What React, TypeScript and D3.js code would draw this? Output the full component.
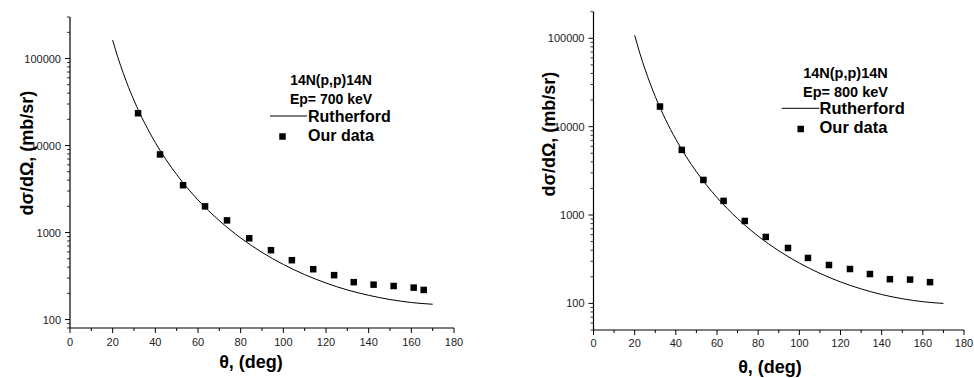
import React, { useEffect } from "react";
import * as d3 from "d3";

// Scattering angles (deg) at which the Rutherford curve is sampled
const rutherfordAngles = [20, 22.5, 25, 27.5, 30, 35, 40, 45, 50, 60, 70, 80, 90, 100, 110, 120, 130, 140, 150, 160, 170];
// Rutherford cross sections (mb/sr), Ep = 700 keV
const rutherford700 = [162800, 102100, 67500, 46400, 33000, 18100, 10800, 6900, 4640, 2370, 1370, 867, 592, 430, 329, 263, 219, 190, 170, 157, 150];
// Rutherford cross sections (mb/sr), Ep = 800 keV
const rutherford800 = [108300, 67900, 44900, 30900, 21950, 12050, 7200, 4590, 3090, 1577, 912, 577, 394, 286, 219, 175, 146, 126, 113, 104.5, 100];

// Measured 14N(p,p)14N cross sections, Ep = 700 keV
const angles700 = [31.9, 42.2, 53, 63.3, 73.6, 84, 94.2, 104, 114, 123.8, 133, 142.3, 151.7, 161.1, 165.8];
const data700 = [23500, 7900, 3500, 2000, 1380, 860, 627, 481, 379, 324, 269, 252, 243, 233, 219];

// Measured 14N(p,p)14N cross sections, Ep = 800 keV
const angles800 = [32.3, 42.9, 53.4, 63.2, 73.5, 83.7, 94.5, 104.2, 114.4, 124.6, 134.3, 144, 153.8, 163.5];
const data800 = [16900, 5460, 2495, 1445, 857, 565, 424, 327, 272, 245, 215, 188, 186, 174];

const xMajorTicks = [0, 20, 40, 60, 80, 100, 120, 140, 160, 180];
const xMinorTicks = [10, 30, 50, 70, 90, 110, 130, 150, 170];
const yMajorTicks = [100, 1000, 10000, 100000];

const FONT = "'Liberation Sans', Arial, Helvetica, sans-serif";

type PanelProps = {
  xRange: [number, number];
  yRange: [number, number];
  yDomain: [number, number];
  curveY: number[];
  pointX: number[];
  pointY: number[];
  energy: string;
  xTitle: [number, number];
  yTitle: [number, number];
  tickLabelDy: number;
  legend: {
    cx: number;
    line1: number;
    line2: number;
    titleSize: number;
    entrySize: number;
    lineX0: number;
    lineX1: number;
    lineY: number;
    rutherfordBase: number;
    textX: number;
    squareX: number;
    squareY: number;
    dataBase: number;
  };
};

function logMinorTicks(lo: number, hi: number): number[] {
  const out: number[] = [];
  for (let e = Math.floor(Math.log10(lo)); e <= Math.ceil(Math.log10(hi)); e++) {
    for (let m = 1; m <= 9; m++) {
      const v = m * Math.pow(10, e);
      if (v >= lo * 0.999 && v <= hi * 1.001 && m !== 1) out.push(v);
    }
  }
  return out;
}

function Panel(p: PanelProps) {
  const x = d3.scaleLinear().domain([0, 180]).range(p.xRange);
  const y = d3.scaleLog().domain(p.yDomain).range(p.yRange);
  const x0 = p.xRange[0];
  const yb = p.yRange[0];

  const line = d3
    .line<number>()
    .x((_, i) => x(rutherfordAngles[i]))
    .y((v) => y(v))
    .curve(d3.curveMonotoneX);

  const minors = logMinorTicks(p.yDomain[0], p.yDomain[1]);
  const L = p.legend;
  const sq = 6.5;

  return (
    <g>
      {/* Rutherford curve */}
      <path d={line(p.curveY) || ""} fill="none" stroke="#000" strokeWidth={1} />
      {/* measured points */}
      {p.pointY.map((v, i) => (
        <rect key={i} x={x(p.pointX[i]) - sq / 2} y={y(v) - sq / 2} width={sq} height={sq} fill="#000" />
      ))}

      {/* axes */}
      <line x1={x0} x2={x0} y1={p.yRange[1]} y2={yb} stroke="#000" strokeWidth={1.2} />
      <line x1={x0} x2={p.xRange[1]} y1={yb} y2={yb} stroke="#000" strokeWidth={1.2} />

      {xMajorTicks.map((t) => (
        <g key={"xm" + t}>
          <line x1={x(t)} x2={x(t)} y1={yb} y2={yb + 5} stroke="#000" />
          <text x={x(t)} y={yb + p.tickLabelDy} textAnchor="middle" fontSize={11} fontFamily={FONT} fill="#222">
            {t}
          </text>
        </g>
      ))}
      {xMinorTicks.map((t) => (
        <line key={"xn" + t} x1={x(t)} x2={x(t)} y1={yb} y2={yb + 3} stroke="#000" />
      ))}
      {yMajorTicks.map((t) => (
        <g key={"ym" + t}>
          <line x1={x0 - 5} x2={x0} y1={y(t)} y2={y(t)} stroke="#000" />
          <text x={x0 - 9} y={y(t) + 4} textAnchor="end" fontSize={11} fontFamily={FONT} fill="#222">
            {t}
          </text>
        </g>
      ))}
      {minors.map((t) => (
        <line key={"yn" + t} x1={x0 - 3} x2={x0} y1={y(t)} y2={y(t)} stroke="#000" strokeWidth={0.8} />
      ))}

      {/* axis titles */}
      <text x={p.xTitle[0]} y={p.xTitle[1]} textAnchor="middle" fontSize={18} fontWeight="bold" fontFamily={FONT}>
        θ, (deg)
      </text>
      <text
        transform={`translate(${p.yTitle[0]},${p.yTitle[1]}) rotate(-90)`}
        textAnchor="middle"
        fontSize={18}
        fontWeight="bold"
        fontFamily={FONT}
      >
        dσ/dΩ, (mb/sr)
      </text>

      {/* legend */}
      <text x={L.cx} y={L.line1} textAnchor="middle" fontSize={L.titleSize} fontWeight="bold" fontFamily={FONT}>
        14N(p,p)14N
      </text>
      <text x={L.cx} y={L.line2} textAnchor="middle" fontSize={L.titleSize} fontWeight="bold" fontFamily={FONT}>
        {`Ep= ${p.energy} keV`}
      </text>
      <line x1={L.lineX0} x2={L.lineX1} y1={L.lineY} y2={L.lineY} stroke="#000" strokeWidth={1} />
      <text x={L.textX} y={L.rutherfordBase} fontSize={L.entrySize} fontWeight="bold" fontFamily={FONT}>
        Rutherford
      </text>
      <rect x={L.squareX - sq / 2} y={L.squareY - sq / 2} width={sq} height={sq} fill="#000" />
      <text x={L.textX} y={L.dataBase} fontSize={L.entrySize} fontWeight="bold" fontFamily={FONT}>
        Our data
      </text>
    </g>
  );
}

export default function App() {
  useEffect(() => {
    document.body.style.margin = "0";
  }, []);
  return (
    <svg width={974} height={378} style={{ position: "absolute", left: 0, top: 0, background: "#fff" }}>
      <rect width={974} height={378} fill="#fff" />
      <Panel
        xRange={[70, 454]}
        yRange={[328, 17]}
        yDomain={[80, 300000]}
        curveY={rutherford700}
        pointX={angles700}
        pointY={data700}
        energy="700"
        xTitle={[251, 368]}
        yTitle={[33, 153]}
        tickLabelDy={17.5}
        legend={{
          cx: 331,
          line1: 85,
          line2: 104.3,
          titleSize: 14,
          entrySize: 16,
          lineX0: 270,
          lineX1: 307,
          lineY: 116,
          rutherfordBase: 122,
          textX: 308,
          squareX: 282.5,
          squareY: 136.5,
          dataBase: 141,
        }}
      />
      <Panel
        xRange={[593.5, 964]}
        yRange={[330, 11.7]}
        yDomain={[50, 200000]}
        curveY={rutherford800}
        pointX={angles800}
        pointY={data800}
        energy="800"
        xTitle={[770, 373]}
        yTitle={[555, 134]}
        tickLabelDy={17}
        legend={{
          cx: 845.5,
          line1: 78.3,
          line2: 96.7,
          titleSize: 14.5,
          entrySize: 16.5,
          lineX0: 781.7,
          lineX1: 819.3,
          lineY: 108.3,
          rutherfordBase: 114,
          textX: 819.5,
          squareX: 800.7,
          squareY: 129,
          dataBase: 133.3,
        }}
      />
    </svg>
  );
}
